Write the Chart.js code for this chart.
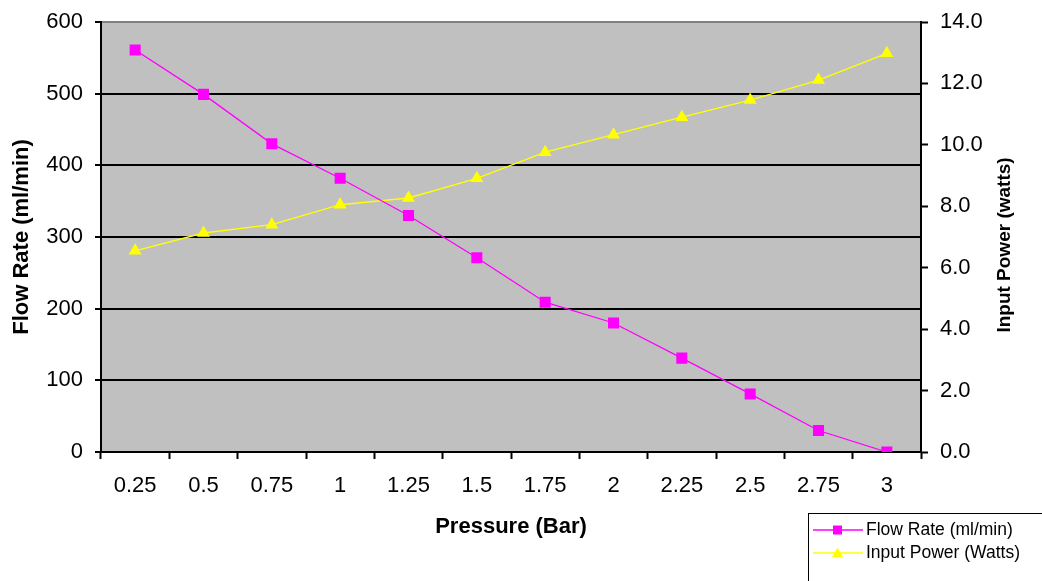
<!DOCTYPE html>
<html>
<head>
<meta charset="utf-8">
<style>
  html, body { margin: 0; padding: 0; background: #ffffff; }
  #wrap { width: 1042px; height: 581px; }
</style>
<script src="https://cdn.jsdelivr.net/npm/chart.js@4.4.1/dist/chart.umd.min.js"></script>
</head>
<body>
<div id="wrap"><canvas id="c" width="1042" height="581"></canvas></div>
<script>
const pressureLabels = ['0.25', '0.5', '0.75', '1', '1.25', '1.5', '1.75', '2', '2.25', '2.5', '2.75', '3'];
const flowRate = [561, 499, 430, 382, 330, 271, 209, 180, 131, 81, 30, 0];
const inputPower = [6.55, 7.13, 7.4, 8.05, 8.27, 8.91, 9.76, 10.33, 10.9, 11.46, 12.11, 12.98];
const flowTicks = [0, 100, 200, 300, 400, 500, 600];
const powerTicks = [0, 2, 4, 6, 8, 10, 12, 14];

const FONT = "'Liberation Sans', Arial, sans-serif";
const MAGENTA = '#FF00FF';
const YELLOW = '#FFFF00';

const plotBg = {
  id: 'plotBg',
  beforeDraw(chart) {
    const {ctx, chartArea: a} = chart;
    ctx.save();
    ctx.fillStyle = '#C0C0C0';
    ctx.fillRect(a.left, a.top, a.right - a.left, a.bottom - a.top);
    ctx.restore();
  }
};

const extras = {
  id: 'extras',
  afterDraw(chart) {
    const {ctx, chartArea: a} = chart;
    ctx.save();
    // right axis title, reading bottom-to-top
    ctx.fillStyle = '#000';
    ctx.font = "bold 19px " + FONT;
    ctx.textAlign = 'center';
    ctx.textBaseline = 'middle';
    ctx.translate(1005, (a.top + a.bottom) / 2 + 8);
    ctx.rotate(-Math.PI / 2);
    ctx.fillText('Input Power (watts)', 0, 0);
    ctx.restore();

    // legend
    ctx.save();
    const bx = 808.5, by = 513.5;
    ctx.fillStyle = '#fff';
    ctx.fillRect(bx, by, 260, 90);
    ctx.strokeStyle = '#000';
    ctx.lineWidth = 1;
    ctx.strokeRect(bx, by, 260, 90);
    const rows = [530, 553];
    chart.data.datasets.forEach((ds, i) => {
      const y = rows[i];
      ctx.strokeStyle = ds.borderColor;
      ctx.lineWidth = 1.5;
      ctx.beginPath();
      ctx.moveTo(813, y);
      ctx.lineTo(863, y);
      ctx.stroke();
      ctx.fillStyle = ds.pointBackgroundColor;
      if (ds.pointStyle === 'rect') {
        ctx.fillRect(833, y - 4.5, 9, 9);
      } else {
        ctx.beginPath();
        ctx.moveTo(837.5, y - 5.5);
        ctx.lineTo(843, y + 4);
        ctx.lineTo(832, y + 4);
        ctx.closePath();
        ctx.fill();
      }
      ctx.fillStyle = '#000';
      ctx.font = "17.5px " + FONT;
      ctx.textAlign = 'left';
      ctx.textBaseline = 'middle';
      ctx.fillText(ds.label, 866, y);
    });
    ctx.restore();
  }
};

new Chart(document.getElementById('c'), {
  type: 'line',
  data: {
    labels: pressureLabels,
    datasets: [
      {
        label: 'Flow Rate (ml/min)',
        data: flowRate,
        yAxisID: 'y',
        borderColor: MAGENTA,
        backgroundColor: MAGENTA,
        pointBackgroundColor: MAGENTA,
        pointBorderColor: MAGENTA,
        borderWidth: 1.3,
        pointStyle: 'rect',
        pointRadius: 7.8,
        pointBorderWidth: 0,
        tension: 0
      },
      {
        label: 'Input Power (Watts)',
        data: inputPower,
        yAxisID: 'y1',
        borderColor: YELLOW,
        backgroundColor: YELLOW,
        pointBackgroundColor: YELLOW,
        pointBorderColor: YELLOW,
        borderWidth: 1.3,
        pointStyle: 'triangle',
        pointRadius: 7.5,
        pointBorderWidth: 0,
        tension: 0
      }
    ]
  },
  options: {
    responsive: false,
    animation: false,
    devicePixelRatio: 1,
    layout: { padding: { top: 22, left: 0, right: 0, bottom: 0 } },
    plugins: {
      legend: { display: false },
      tooltip: { enabled: false },
      title: { display: false }
    },
    scales: {
      x: {
        type: 'category',
        position: 'bottom',
        offset: true,
        grid: {
          display: true,
          offset: true,
          drawOnChartArea: false,
          drawTicks: true,
          tickLength: 7,
          tickColor: '#000',
          tickWidth: 2
        },
        border: { display: true, color: '#000', width: 2 },
        ticks: {
          autoSkip: false,
          maxRotation: 0,
          minRotation: 0,
          color: '#000',
          padding: 14,
          font: { family: FONT, size: 22 }
        },
        title: {
          display: true,
          text: 'Pressure (Bar)',
          color: '#000',
          font: { family: FONT, size: 22, weight: 'bold' },
          padding: { top: 0, bottom: 41 }
        },
        afterFit(scale) { scale.height = 129; scale.paddingLeft = 0; scale.paddingRight = 0; }
      },
      y: {
        position: 'left',
        min: 0,
        max: 600,
        afterBuildTicks(scale) { scale.ticks = flowTicks.map(v => ({ value: v })); },
        grid: {
          drawOnChartArea: true,
          drawTicks: true,
          tickLength: 6,
          tickColor: '#000',
          tickWidth: 2,
          lineWidth: 2,
          color: (c) => (c.tick && c.tick.value === 600) ? '#808080' : '#000'
        },
        border: { display: true, color: '#000', width: 2 },
        ticks: {
          color: '#000',
          padding: 12,
          font: { family: FONT, size: 22 }
        },
        title: {
          display: true,
          text: 'Flow Rate (ml/min)',
          color: '#000',
          font: { family: FONT, size: 22, weight: 'bold' },
          padding: { top: 9, bottom: 0 }
        },
        afterFit(scale) { scale.width = 101; scale.paddingTop = 0; scale.paddingBottom = 0; }
      },
      y1: {
        position: 'right',
        min: 0,
        max: 14,
        afterBuildTicks(scale) { scale.ticks = powerTicks.map(v => ({ value: v })); },
        grid: {
          drawOnChartArea: false,
          drawTicks: true,
          tickLength: 7,
          tickColor: '#000',
          tickWidth: 2
        },
        border: { display: true, color: '#000', width: 2 },
        ticks: {
          color: '#000',
          padding: 12,
          font: { family: FONT, size: 22 },
          callback: (v) => Number(v).toFixed(1)
        },
        afterFit(scale) { scale.width = 121; scale.paddingTop = 0; scale.paddingBottom = 0; }
      }
    }
  },
  plugins: [plotBg, extras]
});
</script>
</body>
</html>
